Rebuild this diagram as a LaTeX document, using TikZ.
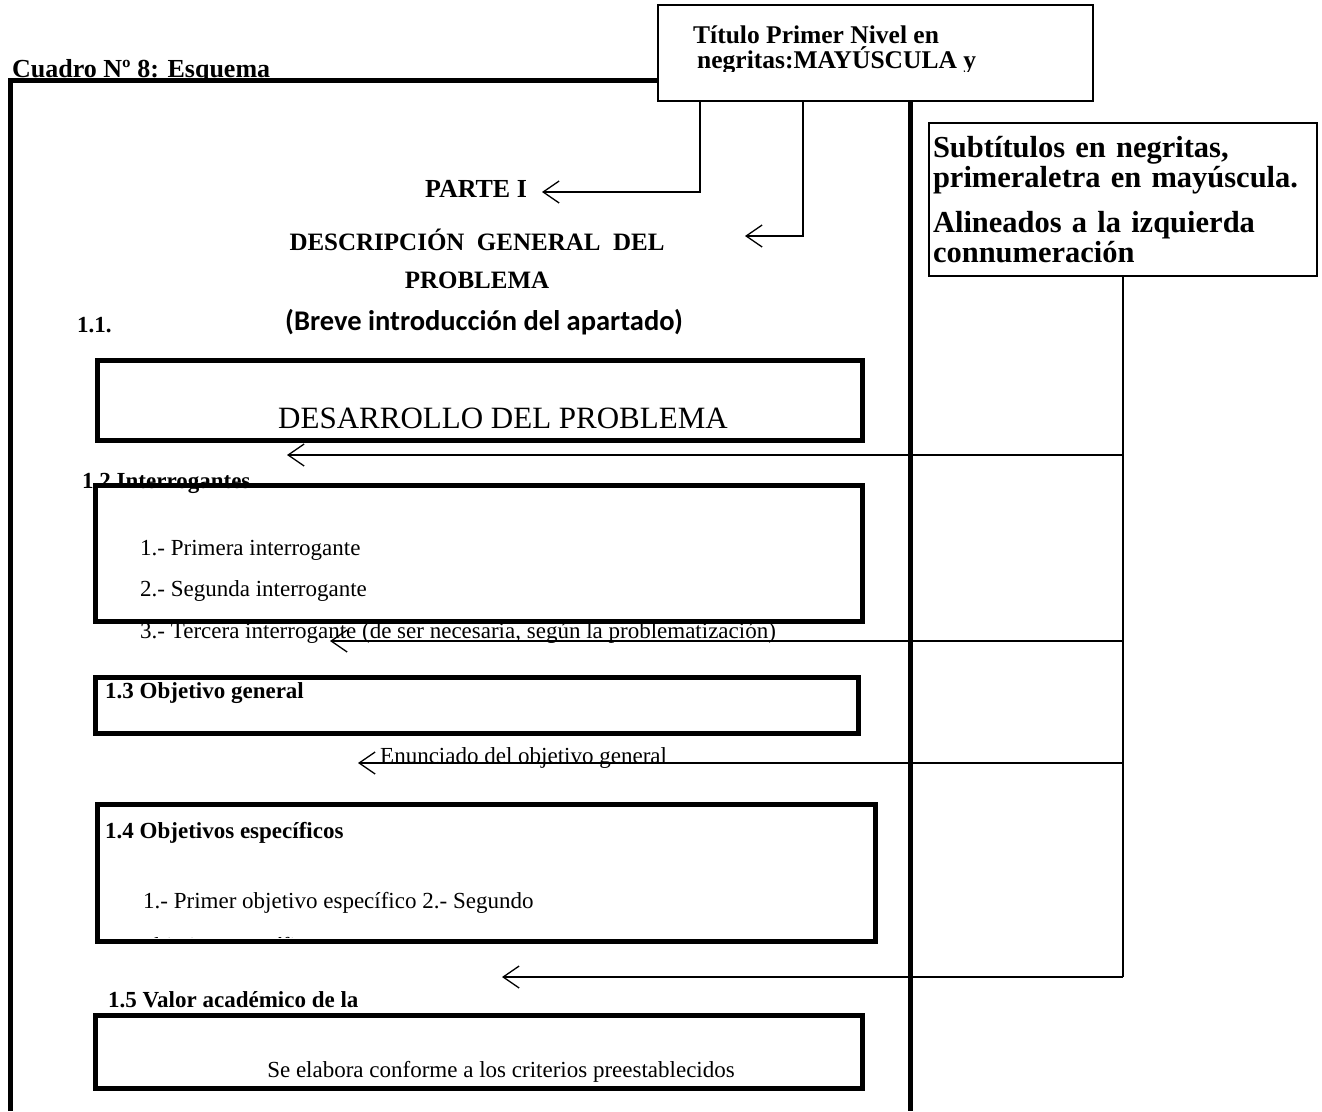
\documentclass[tikz,border=0pt]{standalone}
\usepackage{fontspec}
\setmainfont{Liberation Serif}
\newfontfamily\calibri{Carlito}
\usetikzlibrary{arrows.meta}

\newcommand{\fsz}[1]{\fontsize{#1pt}{#1pt}\selectfont}

\begin{document}
\begin{tikzpicture}[x=1pt, y=-1pt,
  frameline/.style={line width=5pt},
  box/.style={draw, line width=5pt, inner sep=0pt},
  notebox/.style={draw, line width=1.8pt},
  conn/.style={line width=1.3pt},
  barb/.style={conn, -{Straight Barb[length=16pt,width=22pt]}},
  lbl/.style={inner sep=0pt, anchor=base west, font=\fsz{23}},
  head/.style={lbl, font=\fsz{23}\bfseries}]

  \useasboundingbox (0,0) rectangle (1322,1111);

  \node [head, font=\fsz{26}\bfseries] (cuadro) at (12,77) {Cuadro Nº 8: Esquema};

  % title box and frame
  \node [notebox, minimum width=435pt, minimum height=96pt, inner sep=0pt] (titulo) at (875.5,53) {};
  \begin{scope}
    \clip (661,8) rectangle (1090,71);
    \node [head, font=\fsz{25.5}\bfseries] (tit1) at (693,43) {Título Primer Nivel en};
    \node [head, font=\fsz{25.5}\bfseries] (tit2) at (697,68) {negritas:MAYÚSCULA y};
  \end{scope}

  \coordinate (ftop) at (10,80);
  \coordinate (fbot) at (10,1111);
  \coordinate (rcol) at (910,1111);
  \draw [frameline] (fbot) -- (ftop) -- (ftop -| titulo.west);
  \draw [frameline] (rcol |- titulo.south) -- (rcol);

  \node [notebox, minimum width=388pt, minimum height=153pt, text width=380pt,
         align=left, inner sep=3pt, font=\fsz{30.5}\bfseries] (subt) at (1123,199.5)
    {Subtítulos en negritas,\\ primeraletra en mayúscula.\\[14pt] Alineados a la izquierda\\ connumeración};

  % part headings
  \node [head, anchor=base, font=\fsz{26}\bfseries] (parte) at (476,197) {PARTE I};
  \node [head, anchor=base, font=\fsz{25}\bfseries] (desc1) at (477,250) {\makebox[375pt][s]{DESCRIPCIÓN GENERAL DEL}};
  \node [head, anchor=base, font=\fsz{25}\bfseries] (desc2) at (477,288) {PROBLEMA};
  \node [head] (n11) at (77,332) {1.1.};
  \node [lbl, font=\fsz{28.5}\calibri\bfseries] (breve) at (285,330) {(Breve introducción del apartado)};

  % 1.1
  \node [box, minimum width=765pt, minimum height=80pt] (desarrollo) at (479.5,400) {};
  \node [lbl, anchor=base, font=\fsz{31}] (desTxt) at (503,428) {DESARROLLO DEL PROBLEMA};

  % 1.2
  \node [head] (n12) at (82,488) {1.2 Interrogantes};
  \node [lbl] (q1) at (140,555) {1.- Primera interrogante};
  \node [lbl] (q2) at (140,596) {2.- Segunda interrogante};
  \node [lbl] (q3) at (140,638) {3.- Tercera interrogante (de ser necesaria, según la problematización)};
  \node [box, minimum width=767pt, minimum height=136pt] (interrog) at (478.5,553) {};

  % 1.3
  \node [box, minimum width=763pt, minimum height=56pt] (objgen) at (476.5,705) {};
  \node [head] (n13) at (105,698) {1.3 Objetivo general};
  \node [lbl] (enun) at (380,763) {Enunciado del objetivo general};

  % 1.4
  \node [head] (n14) at (105,838) {1.4 Objetivos específicos};
  \node [lbl] (oe1) at (143,908) {1.- Primer objetivo específico 2.- Segundo};
  \begin{scope}
    \clip (100,920) rectangle (870,937);
    \node [lbl] (oe2) at (143,953) {objetivo específico};
  \end{scope}
  \node [box, minimum width=778pt, minimum height=137pt] (objesp) at (486,872.5) {};

  % 1.5
  \node [head] (n15) at (108,1007) {1.5 Valor académico de la};
  \node [box, minimum width=767pt, minimum height=73pt] (valor) at (478.5,1051.5) {};
  \node [lbl, anchor=base] (valTxt) at (501,1077) {Se elabora conforme a los criterios preestablecidos};

  % connectors
  \coordinate (tipParte) at (542,192);
  \coordinate (tipDesc) at (745,236);
  \draw [barb] ([xshift=-175.5pt]titulo.south) |- (tipParte);
  \draw [barb] ([xshift=-72.5pt]titulo.south) |- (tipDesc);

  \coordinate (tipDes) at (287,455);
  \coordinate (tipTer) at (330,641);
  \coordinate (tipEnu) at (358,763);
  \coordinate (tipVal) at (502,977);
  \draw [conn] (subt.south) -- (subt.south |- tipVal);
  \foreach \t in {tipDes,tipTer,tipEnu,tipVal}
    \draw [barb] (subt.south |- \t) -- (\t);

\end{tikzpicture}
\end{document}
